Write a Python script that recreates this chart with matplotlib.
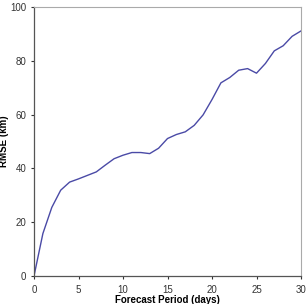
import matplotlib.pyplot as plt

days = list(range(0, 31))
rmse = [0, 15.8, 25.5, 31.9, 34.9, 36.1, 37.4, 38.7, 41.2, 43.6,
        44.9, 45.9, 45.9, 45.5, 47.5, 51.1, 52.6, 53.6, 56.0, 59.9,
        65.6, 71.8, 73.8, 76.5, 77.1, 75.4, 79.0, 83.7, 85.6, 89.1, 91.1]

plt.rcParams['font.family'] = ['Liberation Sans', 'DejaVu Sans']

fig = plt.figure(figsize=(3.06, 3.04), dpi=100)
ax = fig.add_axes([34 / 306, 28 / 304, 267 / 306, 269 / 304])
ax.plot(days, rmse, color='#4a4aa6', linewidth=1.0)

ax.set_xlim(0, 30)
ax.set_ylim(0, 100)
ax.set_xticks(range(0, 31, 5))
ax.set_yticks(range(0, 101, 20))
ax.tick_params(labelsize=7, length=2.5, width=0.8, colors='#333333', pad=3)
ax.tick_params(axis='x', pad=4)

for side in ['left', 'bottom']:
    ax.spines[side].set_color('#555555')
    ax.spines[side].set_linewidth(0.9)
for side in ['top', 'right']:
    ax.spines[side].set_color('#aaaaaa')
    ax.spines[side].set_linewidth(0.8)

ax.set_ylabel('RMSE (km)', fontsize=7, fontweight='bold', labelpad=1)
ax.set_xlabel('Forecast Period (days)', fontsize=7, fontweight='bold', labelpad=0)

fig.savefig('out.png', dpi=100)
